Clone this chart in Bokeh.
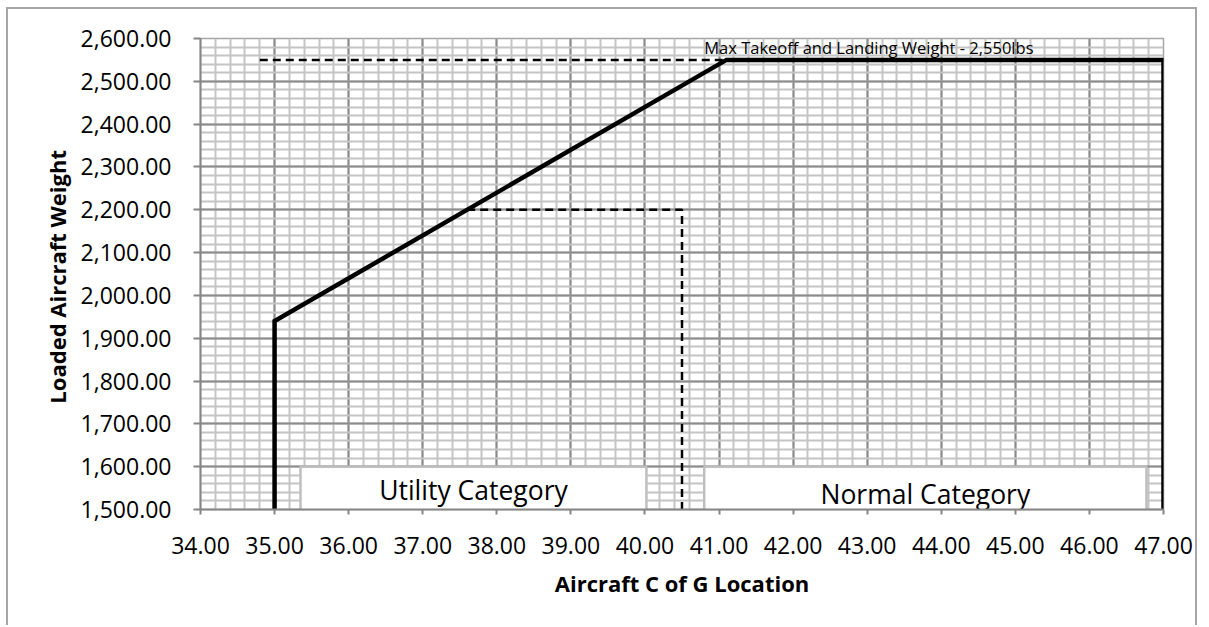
from bokeh.plotting import figure
from bokeh.models import (Range1d, SingleIntervalTicker, NumeralTickFormatter,
                          Label, ColumnDataSource)
from bokeh.core.properties import value
from bokeh.embed import file_html
from bokeh.resources import INLINE

# ---- data ----
envelope_x = [35.0, 35.0, 41.1, 47.0, 47.0]
envelope_y = [1500, 1940, 2550, 2550, 1500]

utility_x = [37.6, 40.5, 40.5]
utility_y = [2200, 2200, 1500]

mtow_x = [34.8, 47.0]
mtow_y = [2550, 2550]

category_labels = ["Utility Category", "Normal Category"]
category_left = [35.35, 40.8]
category_right = [40.02, 46.77]
category_top = [1600, 1600]
category_bottom = [1485, 1485]
category_text_y = [1545, 1537]

annotation_text = "Max Takeoff  and  Landing Weight - 2,550lbs"
annotation_x = 40.8
annotation_y = 2553

x_title = "Aircraft C of G Location"
y_title = "Loaded  Aircraft Weight"

FONT = "Open Sans"
BORDER = "2px solid #a6a6a6"

p = figure(width=1191, height=618, output_backend="svg", toolbar_location=None,
           x_range=Range1d(34, 47), y_range=Range1d(1500, 2600),
           min_border_left=192, min_border_right=36, min_border_top=29,
           min_border_bottom=118)
p.styles = {"border-left": BORDER, "border-top": BORDER, "border-right": BORDER,
            "margin-left": "6px", "margin-top": "7px"}
p.background_fill_color = "white"
p.border_fill_color = "white"
p.outline_line_color = "#a6a6a6"
p.outline_line_width = 1.5

# ticks / grid
p.xaxis.ticker = SingleIntervalTicker(interval=1, num_minor_ticks=5)
p.yaxis.ticker = SingleIntervalTicker(interval=100, num_minor_ticks=5)
p.xgrid.ticker = p.xaxis.ticker
p.ygrid.ticker = p.yaxis.ticker
for g in (p.xgrid, p.ygrid):
    g.grid_line_color = "#8c8c8c"
    g.grid_line_width = 2
    g.minor_grid_line_color = "#c4c4c4"
    g.minor_grid_line_width = 2

p.xaxis.formatter = NumeralTickFormatter(format="0.00")
p.yaxis.formatter = NumeralTickFormatter(format="0,0.00")

for ax in (p.xaxis, p.yaxis):
    ax.axis_line_color = "#868686"
    ax.axis_line_width = 2
    ax.major_tick_line_color = "#868686"
    ax.major_tick_line_width = 2
    ax.major_tick_in = 0
    ax.minor_tick_out = 0
    ax.minor_tick_in = 0
    ax.major_label_text_font = FONT
    ax.major_label_text_font_size = "23px"
    ax.major_label_text_color = "black"
    ax.axis_label_text_font = FONT
    ax.axis_label_text_font_style = "bold"
    ax.axis_label_text_font_size = "22px"
    ax.axis_label_text_color = "black"

p.xaxis.major_tick_out = 5
p.xaxis.major_label_standoff = 22
p.xaxis.axis_label = x_title
p.xaxis.axis_label_standoff = 11
p.yaxis.major_tick_out = 7
p.yaxis.major_label_standoff = 22
p.yaxis.axis_label = y_title
p.yaxis.axis_label_standoff = 6

# category boxes
box_src = ColumnDataSource(dict(left=category_left, right=category_right,
                                top=category_top, bottom=category_bottom,
                                label=category_labels,
                                cx=[(a + b) / 2 for a, b in zip(category_left, category_right)],
                                ty=category_text_y))
p.quad(left="left", right="right", top="top", bottom="bottom", source=box_src,
       fill_color="white", line_color="#bfbfbf", line_width=2.5)
p.text(x="cx", y="ty", text="label", source=box_src, text_align="center",
       text_baseline="middle", text_font=value(FONT), text_font_size="26.5px",
       text_color="black")

# dashed lines
p.line(mtow_x, mtow_y, line_color="black", line_width=2.5, line_dash="8 5")
p.line(utility_x, utility_y, line_color="black", line_width=2.5, line_dash="8 5")

# envelope
p.line(envelope_x, envelope_y, line_color="black", line_width=4.5, line_join="miter")

p.add_layout(Label(x=annotation_x, y=annotation_y, text=annotation_text,
                   text_font=FONT, text_font_size="16.5px", text_color="black",
                   text_baseline="bottom", text_align="left"))

open("out.html", "w").write(file_html(p, INLINE))
